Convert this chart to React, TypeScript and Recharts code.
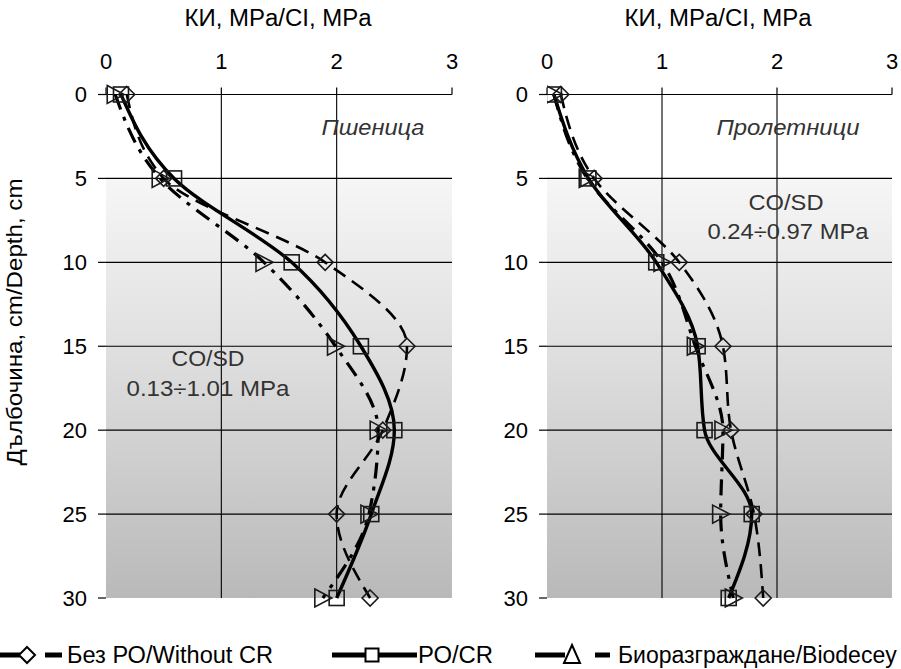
import React from "react";
import { LineChart, Line, XAxis, YAxis, CartesianGrid, ReferenceLine } from "recharts";

// Penetration resistance profiles (КИ / CI, MPa) by depth, two crops side by side.

const DEPTHS = [0, 5, 10, 15, 20, 25, 30];
const X_TICKS = [0, 1, 2, 3];
const Y_TICKS = [0, 5, 10, 15, 20, 25, 30];
const GRID_DEPTHS = [5, 10, 15, 20, 25];
const GRID_VALUES = [1, 2];

// Пшеница (wheat)
const WHEAT_NO_CR = [0.18, 0.5, 1.9, 2.61, 2.4, 2.0, 2.29];
const WHEAT_CR = [0.13, 0.59, 1.61, 2.21, 2.5, 2.3, 2.0];
const WHEAT_BIO = [0.08, 0.47, 1.37, 1.99, 2.36, 2.28, 1.88];

// Пролетници (spring crops)
const SPRING_NO_CR = [0.12, 0.41, 1.15, 1.53, 1.6, 1.8, 1.88];
const SPRING_CR = [0.06, 0.36, 0.95, 1.31, 1.37, 1.78, 1.58];
const SPRING_BIO = [0.06, 0.35, 1.0, 1.29, 1.53, 1.51, 1.62];

const FONT = "'Liberation Sans', Arial, sans-serif";
const INK = "#000";
const MARK = "#1a1a1a";

function toRows(noCr: number[], cr: number[], bio: number[]) {
  return DEPTHS.map((depth, i) => ({ depth, noCr: noCr[i], cr: cr[i], bio: bio[i] }));
}

const wheatRows = toRows(WHEAT_NO_CR, WHEAT_CR, WHEAT_BIO);
const springRows = toRows(SPRING_NO_CR, SPRING_CR, SPRING_BIO);

const DiamondDot = (p: any) => {
  const { cx, cy, index } = p;
  if (cx == null || cy == null) return <g key={`d-${index}`} />;
  return (
    <path
      key={`d-${index}`}
      d={`M${cx} ${cy - 8}L${cx + 8} ${cy}L${cx} ${cy + 8}L${cx - 8} ${cy}Z`}
      fill="none"
      stroke={MARK}
      strokeWidth={1.6}
    />
  );
};

const SquareDot = (p: any) => {
  const { cx, cy, index } = p;
  if (cx == null || cy == null) return <g key={`s-${index}`} />;
  return (
    <rect key={`s-${index}`} x={cx - 7.5} y={cy - 7.5} width={15} height={15} fill="none" stroke={MARK} strokeWidth={1.6} />
  );
};

const TriangleDot = (p: any) => {
  const { cx, cy, index } = p;
  if (cx == null || cy == null) return <g key={`t-${index}`} />;
  return (
    <path
      key={`t-${index}`}
      d={`M${cx - 8} ${cy - 9}L${cx + 9} ${cy}L${cx - 8} ${cy + 9}Z`}
      fill="none"
      stroke={MARK}
      strokeWidth={1.6}
    />
  );
};

interface PanelProps {
  id: string;
  data: { depth: number; noCr: number; cr: number; bio: number }[];
  width: number;
  left: number;
  marginLeft: number;
  marginRight: number;
}

function Panel({ id, data, width, left, marginLeft, marginRight }: PanelProps) {
  const tickStyle = { fontSize: 22, fill: INK, fontFamily: FONT };
  return (
    <div style={{ position: "absolute", left, top: 0 }}>
      <LineChart
        layout="vertical"
        width={width}
        height={620}
        data={data}
        margin={{ top: 64.5, right: marginRight, bottom: 22, left: marginLeft }}
      >
        <defs>
          <linearGradient id={id} x1="0" y1="0" x2="0" y2="1">
            <stop offset="0" stopColor="#ffffff" />
            <stop offset="0.166" stopColor="#ffffff" />
            <stop offset="0.168" stopColor="#f6f6f6" />
            <stop offset="0.5" stopColor="#e0e0e0" />
            <stop offset="1" stopColor="#b9b9b9" />
          </linearGradient>
        </defs>
        <CartesianGrid horizontal={false} vertical={false} fill={`url(#${id})`} fillOpacity={1} />
        <XAxis
          type="number"
          orientation="top"
          domain={[0, 3]}
          ticks={X_TICKS}
          allowDataOverflow
          height={30}
          tick={tickStyle}
          tickSize={7}
          tickMargin={19}
          axisLine={{ stroke: INK, strokeWidth: 1.2 }}
          tickLine={{ stroke: INK, strokeWidth: 1.2 }}
        />
        <YAxis
          type="number"
          dataKey="depth"
          domain={[0, 30]}
          ticks={Y_TICKS}
          width={40}
          tick={tickStyle}
          tickSize={8}
          tickMargin={11}
          axisLine={false}
          tickLine={{ stroke: INK, strokeWidth: 1.2 }}
        />
        {GRID_VALUES.map((v) => (
          <ReferenceLine key={`gx-${v}`} x={v} stroke={INK} strokeWidth={1.1} />
        ))}
        {GRID_DEPTHS.map((d) => (
          <ReferenceLine key={`gy-${d}`} y={d} stroke={INK} strokeWidth={1.1} />
        ))}
        <Line
          dataKey="noCr"
          type="monotone"
          stroke={INK}
          strokeWidth={2.6}
          strokeDasharray="14 8"
          dot={DiamondDot}
          activeDot={false}
          isAnimationActive={false}
        />
        <Line
          dataKey="bio"
          type="monotone"
          stroke={INK}
          strokeWidth={3.2}
          strokeDasharray="16 8 4 8"
          dot={TriangleDot}
          activeDot={false}
          isAnimationActive={false}
        />
        <Line
          dataKey="cr"
          type="monotone"
          stroke={INK}
          strokeWidth={3.4}
          dot={SquareDot}
          activeDot={false}
          isAnimationActive={false}
        />
      </LineChart>
    </div>
  );
}

function Overlay() {
  const t = { fontFamily: FONT, fill: INK };
  const note = { fontFamily: FONT, fill: "#333" };
  return (
    <svg
      width={901}
      height={669}
      style={{ position: "absolute", left: 0, top: 0, pointerEvents: "none" }}
    >
      <text x={278} y={26} textAnchor="middle" fontSize={23} textLength={187} lengthAdjust="spacingAndGlyphs" {...t}>
        КИ, MPa/CI, MPa
      </text>
      <text x={718} y={26} textAnchor="middle" fontSize={23} textLength={187} lengthAdjust="spacingAndGlyphs" {...t}>
        КИ, MPa/CI, MPa
      </text>
      <text
        x={22}
        y={322}
        transform="rotate(-90, 22, 322)"
        textAnchor="middle"
        fontSize={22}
        textLength={287}
        lengthAdjust="spacingAndGlyphs"
        {...t}
      >
        Дълбочина, cm/Depth, cm
      </text>

      <text x={373} y={135} textAnchor="middle" fontSize={22} fontStyle="italic" textLength={103} lengthAdjust="spacingAndGlyphs" {...note}>
        Пшеница
      </text>
      <text x={208} y={366} textAnchor="middle" fontSize={22} textLength={73} lengthAdjust="spacingAndGlyphs" {...note}>
        CO/SD
      </text>
      <text x={208} y={396} textAnchor="middle" fontSize={22} textLength={163} lengthAdjust="spacingAndGlyphs" {...note}>
        0.13÷1.01 MPa
      </text>

      <text x={788} y={135} textAnchor="middle" fontSize={22} fontStyle="italic" textLength={143} lengthAdjust="spacingAndGlyphs" {...note}>
        Пролетници
      </text>
      <text x={786} y={210} textAnchor="middle" fontSize={22} textLength={75} lengthAdjust="spacingAndGlyphs" {...note}>
        CO/SD
      </text>
      <text x={788} y={239} textAnchor="middle" fontSize={22} textLength={161} lengthAdjust="spacingAndGlyphs" {...note}>
        0.24÷0.97 MPa
      </text>

      {/* legend */}
      <g stroke={INK} strokeWidth={5}>
        <line x1={-5} y1={655} x2={20} y2={655} />
        <line x1={45} y1={655} x2={62} y2={655} />
        <line x1={332} y1={655} x2={417} y2={655} />
        <line x1={535} y1={655} x2={565} y2={655} />
        <line x1={595} y1={655} x2={610} y2={655} />
      </g>
      <path d="M27 647L35 655L27 663L19 655Z" fill="#fff" stroke={INK} strokeWidth={2} />
      <rect x={365.5} y={648.5} width={13} height={13} fill="#fff" stroke={INK} strokeWidth={2} />
      <path d="M572 645L580 663L564 663Z" fill="#fff" stroke={INK} strokeWidth={2} />
      <text x={67} y={663} fontSize={23} textLength={206} lengthAdjust="spacingAndGlyphs" {...t}>
        Без РО/Without CR
      </text>
      <text x={418} y={663} fontSize={23} textLength={75} lengthAdjust="spacingAndGlyphs" {...t}>
        РО/CR
      </text>
      <text x={618} y={663} fontSize={23} {...t}>
        Биоразграждане/Biodecey
      </text>
    </svg>
  );
}

export default function App() {
  return (
    <div style={{ position: "absolute", left: 0, top: 0, width: 901, height: 669, background: "#fff", overflow: "hidden" }}>
      <Panel id="bgWheat" data={wheatRows} width={470} left={0} marginLeft={66} marginRight={18} />
      <Panel id="bgSpring" data={springRows} width={431} left={470} marginLeft={37} marginRight={9} />
      <Overlay />
    </div>
  );
}
